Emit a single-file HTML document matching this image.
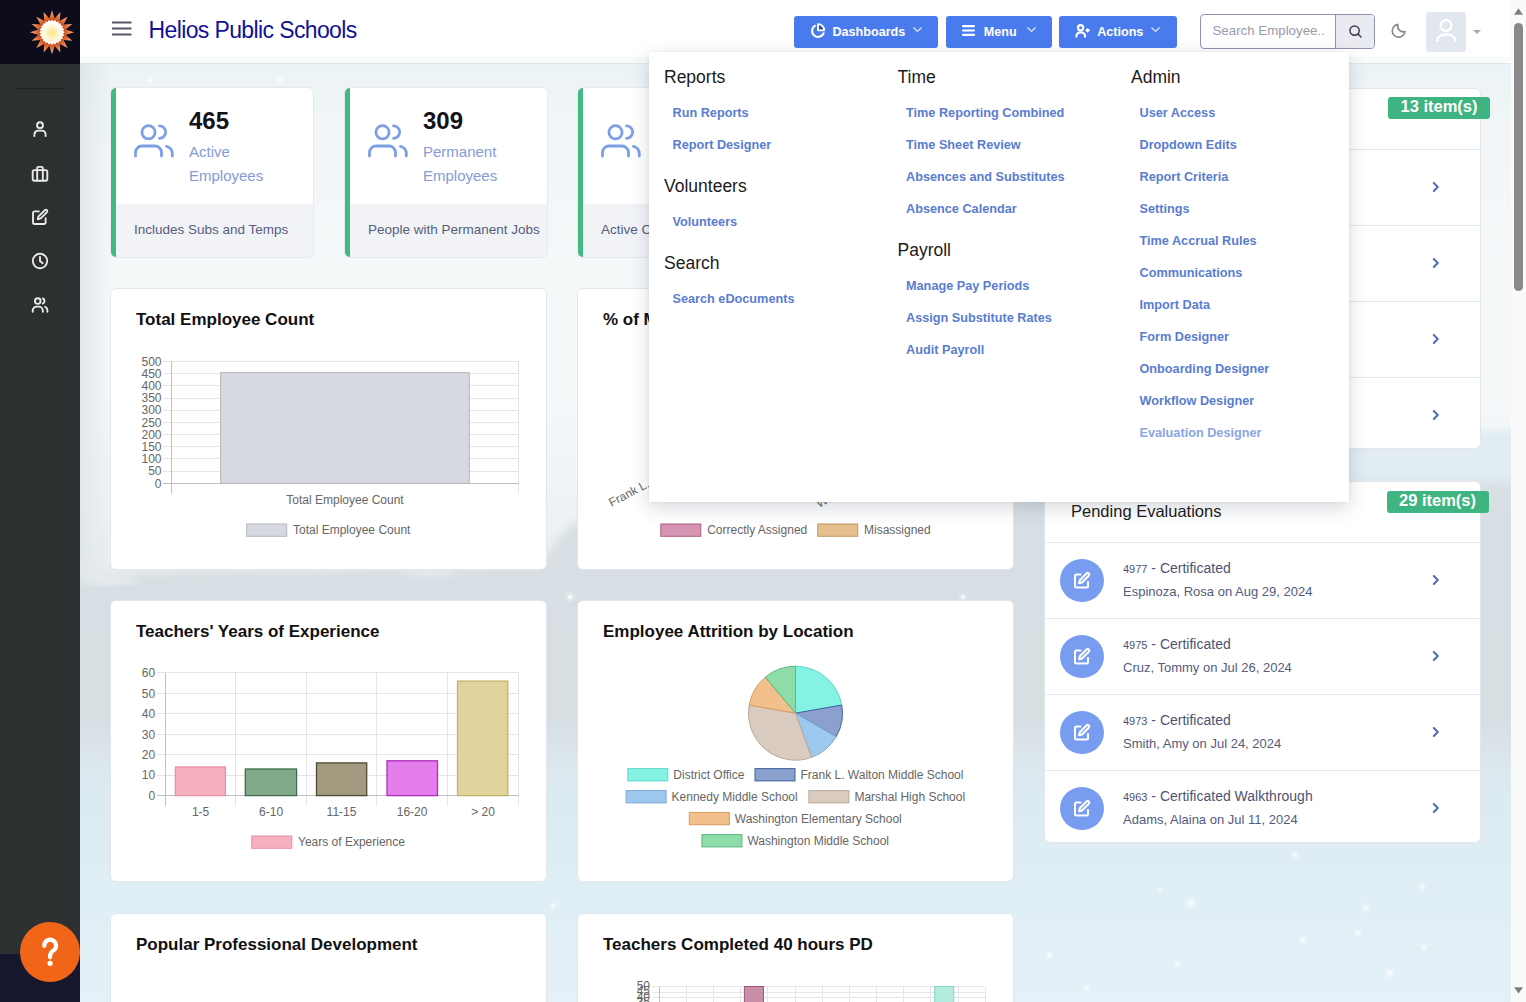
<!DOCTYPE html>
<html><head><meta charset="utf-8"><title>Helios Public Schools</title>
<style>
*{box-sizing:border-box;margin:0;padding:0}
html,body{width:1526px;height:1002px;overflow:hidden;font-family:"Liberation Sans",sans-serif;background:#eef3f6}
.abs{position:absolute}
#bg{position:absolute;left:80px;top:63px;width:1431px;height:939px;overflow:hidden;background:#eef3f6}
#side{position:absolute;left:0;top:0;width:80px;height:1002px;background:#2d3031}
#side .top{position:absolute;left:0;top:0;width:80px;height:64px;background:#0c0c1a}
#side .bot{position:absolute;left:0;top:954px;width:80px;height:48px;background:#16162c}
#side .div{position:absolute;left:16px;top:88px;width:48px;height:1px;background:#1f2020}
#side svg.ic{position:absolute;left:31px;width:18px;height:18px}
#hdr{position:absolute;left:80px;top:0;width:1431px;height:64px;background:linear-gradient(180deg,#fff 0,#fff 55px,#f8fbfb 58px,#f8fbfb 63px);border-bottom:1px solid #e2e8e9}
.card{position:absolute;background:#fff;border:1px solid #e2e6ea;border-radius:6px}
.stat{position:absolute;top:88px;width:202px;height:169px;background:#fff;border-radius:5px;border-left:5px solid #42b883;overflow:hidden;box-shadow:0 0 0 1px #e6eaee}
.stat .ft{position:absolute;left:0;right:0;bottom:0;height:53px;background:#f1f3f7}
.stat .num{position:absolute;left:73px;top:104px;font-weight:bold;font-size:24px;color:#111}
.ctitle{position:absolute;font-weight:bold;font-size:17px;color:#111;white-space:nowrap}
.btn{position:absolute;top:16px;height:31.5px;background:#4a7bee;border-radius:3px;color:#fff;font-weight:bold;font-size:12.6px}
.btn span{position:absolute;top:8.6px;white-space:nowrap}
#dd{position:absolute;left:649px;top:52px;width:700px;height:450px;background:#fff;border-radius:0;box-shadow:0 6px 18px rgba(40,50,70,.18),0 0 3px rgba(40,50,70,.08)}
#dd .h{position:absolute;font-size:17.5px;color:#1b1b1b;white-space:nowrap;margin-top:0.5px}
#dd .l{position:absolute;font-size:12.7px;font-weight:bold;color:#5a7dd0;white-space:nowrap;margin-top:1px}
.badge{position:absolute;height:22px;width:102px;background:#3eb480;border-radius:3px;color:#fff;font-weight:bold;font-size:16.5px;text-align:center;line-height:19.5px}
.row{position:absolute;left:0;right:0;height:76px;border-top:1px solid #e4e7eb}
.chev{position:absolute;left:387px;width:8px;height:10px}
#sb{position:absolute;left:1511px;top:0;width:15px;height:1002px;background:#fafafa}
</style></head><body>
<div id="bg"><svg width="1431" height="939" viewBox="80 63 1431 939" style="display:block">
<defs>
<linearGradient id="bgtop" x1="0" y1="63" x2="0" y2="620" gradientUnits="userSpaceOnUse"><stop offset="0" stop-color="#ecf3f6"/><stop offset="0.05" stop-color="#eef4f6"/><stop offset="0.15" stop-color="#f3f6f8"/><stop offset="0.35" stop-color="#f5f8f9"/><stop offset="0.6" stop-color="#f5f8f9"/><stop offset="0.8" stop-color="#eef2f4"/><stop offset="1" stop-color="#e4eaed"/></linearGradient>
<linearGradient id="lft" x1="80" y1="0" x2="112" y2="0" gradientUnits="userSpaceOnUse"><stop offset="0" stop-color="#dfe6ea" stop-opacity="0.9"/><stop offset="1" stop-color="#dfe6ea" stop-opacity="0"/></linearGradient>
<linearGradient id="mtn" x1="0" y1="470" x2="0" y2="1002" gradientUnits="userSpaceOnUse"><stop offset="0" stop-color="#d8e0e4"/><stop offset="0.47" stop-color="#d7dfe3"/><stop offset="0.52" stop-color="#d9e3e9"/><stop offset="0.56" stop-color="#dce8ef"/><stop offset="0.62" stop-color="#dceaf2"/><stop offset="0.8" stop-color="#e0eef5"/><stop offset="1" stop-color="#e4f1f8"/></linearGradient>
<filter id="bl" x="-5%" y="-5%" width="110%" height="110%"><feGaussianBlur stdDeviation="4"/></filter><filter id="bl2"><feGaussianBlur stdDeviation="1.5"/></filter>
</defs>
<rect x="80" y="63" width="1431" height="939" fill="url(#bgtop)"/>
<rect x="80" y="63" width="40" height="560" fill="url(#lft)"/>
<rect x="1290" y="430" width="240" height="70" fill="#e1ecf3" filter="url(#bl)"/><path d="M60 585 L110 574 L200 571 L330 570 L460 566 L540 562 L552 548 L566 530 L580 520 L700 515 L850 510 L1013 502 L1045 488 L1200 484 L1400 483 L1530 482 L1530 1010 L60 1010 Z" fill="url(#mtn)" filter="url(#bl)"/>
<g fill="#e9eef1" filter="url(#bl)" opacity="0.9"><ellipse cx="110" cy="580" rx="30" ry="5"/><ellipse cx="430" cy="572" rx="25" ry="4"/></g>
<g fill="#ffffff" opacity="0.85"><circle cx="1295" cy="855" r="1.6"/><circle cx="1191" cy="903" r="2.2"/><circle cx="1366" cy="908" r="1.8"/><circle cx="1303" cy="940" r="1.8"/><circle cx="1358" cy="933" r="1.6"/><circle cx="1049" cy="955" r="1.6"/><circle cx="1178" cy="964" r="1.6"/><circle cx="1390" cy="973" r="1.8"/><circle cx="1087" cy="988" r="1.6"/><circle cx="1424" cy="947" r="1.3"/><circle cx="570" cy="597" r="1.8"/><circle cx="963" cy="597" r="1.6"/><circle cx="1422" cy="887" r="1.6"/><circle cx="553" cy="906" r="1.5"/><circle cx="1160" cy="890" r="1.2"/><circle cx="150" cy="80" r="1.2"/><circle cx="280" cy="80" r="1.3"/></g><g fill="#ffffff" opacity="0.35" filter="url(#bl2)"><circle cx="1295" cy="855" r="4.0"/><circle cx="1191" cy="903" r="5.5"/><circle cx="1366" cy="908" r="4.5"/><circle cx="1303" cy="940" r="4.5"/><circle cx="1358" cy="933" r="4.0"/><circle cx="1049" cy="955" r="4.0"/><circle cx="1178" cy="964" r="4.0"/><circle cx="1390" cy="973" r="4.5"/><circle cx="1087" cy="988" r="4.0"/><circle cx="1424" cy="947" r="3.25"/><circle cx="570" cy="597" r="4.5"/><circle cx="963" cy="597" r="4.0"/><circle cx="1422" cy="887" r="4.0"/><circle cx="553" cy="906" r="3.75"/><circle cx="1160" cy="890" r="3.0"/><circle cx="150" cy="80" r="3.0"/><circle cx="280" cy="80" r="3.25"/></g></svg></div>
<div id="side"><div class="top"></div><div class="bot"></div><div class="div"></div>
<svg class="abs" style="left:0;top:0" width="80" height="64" viewBox="0 0 80 64"><defs><radialGradient id="sg" cx="52" cy="32.3" r="22" gradientUnits="userSpaceOnUse"><stop offset="0.5" stop-color="#b9441a"/><stop offset="0.72" stop-color="#e5733c"/><stop offset="1" stop-color="#f6b08a"/></radialGradient><radialGradient id="cg" cx="52" cy="33.3" r="12" gradientUnits="userSpaceOnUse"><stop offset="0" stop-color="#fde57e"/><stop offset="0.55" stop-color="#fff4d2"/><stop offset="1" stop-color="#ffffff"/></radialGradient></defs><polygon points="52.0,10.3 54.7,18.6 60.4,12.0 59.8,20.7 67.6,16.7 63.6,24.5 72.3,23.9 65.7,29.6 74.0,32.3 65.7,35.0 72.3,40.7 63.6,40.1 67.6,47.9 59.8,43.9 60.4,52.6 54.7,46.0 52.0,54.3 49.3,46.0 43.6,52.6 44.2,43.9 36.4,47.9 40.4,40.1 31.7,40.7 38.3,35.0 30.0,32.3 38.3,29.6 31.7,23.9 40.4,24.5 36.4,16.7 44.2,20.7 43.6,12.0 49.3,18.6" fill="url(#sg)"/><polygon points="52.0,19.7 53.5,21.2 55.3,20.1 56.3,22.0 58.3,21.4 58.8,23.4 60.9,23.4 60.9,25.5 62.9,26.0 62.3,28.0 64.2,29.0 63.1,30.8 64.6,32.3 63.1,33.8 64.2,35.6 62.3,36.6 62.9,38.6 60.9,39.1 60.9,41.2 58.8,41.2 58.3,43.2 56.3,42.6 55.3,44.5 53.5,43.4 52.0,44.9 50.5,43.4 48.7,44.5 47.7,42.6 45.7,43.2 45.2,41.2 43.1,41.2 43.1,39.1 41.1,38.6 41.7,36.6 39.8,35.6 40.9,33.8 39.4,32.3 40.9,30.8 39.8,29.0 41.7,28.0 41.1,26.0 43.1,25.5 43.1,23.4 45.2,23.4 45.7,21.4 47.7,22.0 48.7,20.1 50.5,21.2" fill="url(#cg)"/></svg>
<svg class="ic" style="top:119.5px" viewBox="0 0 16 16" fill="none" stroke="#ececec" stroke-width="1.65" stroke-linecap="round"><circle cx="8" cy="4.6" r="2.6"/><path d="M3 14.2v-1.2a3.6 3.6 0 0 1 3.6-3.6h2.8a3.6 3.6 0 0 1 3.6 3.6v1.2"/></svg>
<svg class="ic" style="top:164.5px" viewBox="0 0 16 16" fill="none" stroke="#ececec" stroke-width="1.65" stroke-linejoin="round"><rect x="1.5" y="4.5" width="13" height="9.5" rx="1.5"/><path d="M5.5 4.5v-1.8a1 1 0 0 1 1-1h3a1 1 0 0 1 1 1v1.8M5.5 4.5v9.5M10.5 4.5v9.5"/></svg>
<svg class="ic" style="top:208.3px" viewBox="0 0 16 16" fill="none" stroke="#ececec" stroke-width="1.65" stroke-linecap="round" stroke-linejoin="round"><path d="M7 3H3.2a1.4 1.4 0 0 0-1.4 1.4v8.4a1.4 1.4 0 0 0 1.4 1.4h8.4a1.4 1.4 0 0 0 1.4-1.4V9"/><path d="M12.5 1.8a1.3 1.3 0 0 1 1.8 1.8L8.6 9.3 6 10l.7-2.6z"/></svg>
<svg class="ic" style="top:252.2px" viewBox="0 0 16 16" fill="none" stroke="#ececec" stroke-width="1.65" stroke-linecap="round"><circle cx="8" cy="8" r="6.4"/><path d="M8 4.3V8l2.4 2"/></svg>
<svg class="ic" style="top:295.8px" viewBox="0 0 16 16" fill="none" stroke="#ececec" stroke-width="1.65" stroke-linecap="round"><circle cx="6" cy="4.5" r="2.5"/><path d="M1.5 14v-1a3.5 3.5 0 0 1 3.5-3.5h2a3.5 3.5 0 0 1 3.5 3.5v1"/><path d="M10.5 2.2a2.5 2.5 0 0 1 0 4.6M12.6 9.6a3.5 3.5 0 0 1 2 3.2v1.2"/></svg>
<div class="abs" style="left:19.5px;top:921.7px;width:60px;height:60px;border-radius:50%;background:#f16519"><svg class="abs" style="left:0;top:0" width="60" height="60" viewBox="0 0 60 60"><path d="M24.3 23.8a5.9 5.9 0 1 1 9.3 4.6c-2.2 1.5-3.5 2.6-3.5 5.6v1.3" fill="none" stroke="#fff" stroke-width="4.2" stroke-linecap="round"/><circle cx="30.1" cy="41.3" r="2.6" fill="#fff"/></svg></div>
</div>
<div id="hdr">
<svg class="abs" style="left:32px;top:21px" width="20" height="16" viewBox="0 0 20 16"><path d="M0 1.5h19.5M0 7.5h19.5M0 13.5h19.5" stroke="#575769" stroke-width="2"/></svg>
<div class="abs" style="left:68.5px;top:16.8px;font-size:23px;color:#121296;white-space:nowrap;letter-spacing:-0.62px">Helios Public Schools</div>
</div>
<div class="btn" style="left:794px;width:143.5px"><svg class="abs" style="left:15.5px;top:6.5px" width="17" height="17" viewBox="0 0 17 17" fill="none" stroke="#fff" stroke-width="2"><path d="M5.6 2.4A6 6 0 1 0 13.9 9.4"/><path d="M8 1.1V7.3H14.2A6.2 6.2 0 0 0 8 1.1Z" stroke-width="1.8" stroke-linejoin="round" fill="#34509f"/></svg><span style="left:38.5px">Dashboards</span><svg class="abs" style="left:119px;top:11px" width="9" height="6" viewBox="0 0 9 6" fill="none" stroke="#dfe7ff" stroke-width="1.2"><path d="M.5 .5l4 4 4-4"/></svg></div>
<div class="btn" style="left:946.3px;width:105.4px"><svg class="abs" style="left:16px;top:9px" width="13" height="11" viewBox="0 0 13 11" fill="#fff"><rect x="0" y="0" width="13" height="2.2" rx="1"/><rect x="0" y="4.4" width="13" height="2.2" rx="1"/><rect x="0" y="8.8" width="13" height="2.2" rx="1"/></svg><span style="left:37.5px">Menu</span><svg class="abs" style="left:81px;top:11px" width="9" height="6" viewBox="0 0 9 6" fill="none" stroke="#dfe7ff" stroke-width="1.2"><path d="M.5 .5l4 4 4-4"/></svg></div>
<div class="btn" style="left:1059.2px;width:117.5px"><svg class="abs" style="left:15.5px;top:7.5px" width="17" height="15" viewBox="0 0 17 15" fill="none" stroke="#fff" stroke-width="2.2" stroke-linecap="round"><circle cx="5.6" cy="3.7" r="2.6"/><path d="M1.4 12.6V11.6A4.3 3.3 0 0 1 10 11.6V12.6"/><path d="M12.6 3.9L15 6.3L12.6 8.7L10.2 6.3Z" fill="#fff" stroke="none"/></svg><span style="left:38px">Actions</span><svg class="abs" style="left:92px;top:11px" width="9" height="6" viewBox="0 0 9 6" fill="none" stroke="#dfe7ff" stroke-width="1.2"><path d="M.5 .5l4 4 4-4"/></svg></div>
<div class="abs" style="left:1200px;top:14px;width:175px;height:34.5px;border:1px solid #8d93b5;border-radius:4px;background:#fff;overflow:hidden">
 <div class="abs" style="left:11.5px;top:8px;font-size:13.3px;color:#9a9bab;white-space:nowrap">Search Employee..</div>
 <div class="abs" style="left:134px;top:0;width:40px;height:33px;background:#e9ebf0;border-left:1px solid #8d93b5"></div>
 <svg class="abs" style="left:148px;top:10px" width="13" height="13" viewBox="0 0 13 13" fill="none" stroke="#3d3d4d" stroke-width="1.5" stroke-linecap="round"><circle cx="5.6" cy="5.6" r="4.6"/><path d="M9 9l3 3"/></svg>
</div>
<svg class="abs" style="left:1390px;top:23px" width="17" height="16" viewBox="0 0 17 16" fill="none" stroke="#88898d" stroke-width="1.6" stroke-linejoin="round"><path d="M8 1.4A6.4 6.4 0 1 0 15 8.6A5.6 5.6 0 0 1 8 1.4Z"/></svg>
<div class="abs" style="left:1426px;top:12px;width:40px;height:39.5px;background:#e2e6ee;border-radius:3px"></div>
<svg class="abs" style="left:1434px;top:17px" width="24" height="28" viewBox="0 0 24 28" fill="none" stroke="#fff" stroke-width="2.3" stroke-linecap="round"><circle cx="12" cy="8.6" r="5.4"/><path d="M3.2 23.5a9 6.2 0 0 1 18 0"/></svg>
<svg class="abs" style="left:1472.5px;top:29.5px" width="8" height="4" viewBox="0 0 8 4"><path d="M0 0h8L4 4z" fill="#a9a9ad"/></svg>
<div class="stat" style="left:111px"><div class="ft"></div></div>
<svg class="abs" style="left:133.5px;top:123.5px" width="41" height="34" viewBox="0 0 41 34" fill="none" stroke="#7c9fe5" stroke-width="2.8" stroke-linecap="round"><circle cx="14.5" cy="8.3" r="6.6"/><path d="M25.5 1.9a6.2 6.2 0 0 1 0 12.4"/><path d="M1.5 32v-3.5a6.5 6.5 0 0 1 6.5-6.5h13a6.5 6.5 0 0 1 6.5 6.5V32"/><path d="M32.5 22.3a7.5 7.5 0 0 1 5.8 7.3V32"/></svg>
<div class="abs" style="left:189px;top:107px;font-weight:bold;font-size:24px;color:#121218">465</div>
<div class="abs" style="left:189px;top:140.2px;font-size:15px;line-height:24px;color:#859bd6;white-space:nowrap">Active<br>Employees</div>
<div class="abs" style="left:134px;top:222px;font-size:13.5px;color:#575d7d;white-space:nowrap">Includes Subs and Temps</div>
<div class="stat" style="left:345px"><div class="ft"></div></div>
<svg class="abs" style="left:367.5px;top:123.5px" width="41" height="34" viewBox="0 0 41 34" fill="none" stroke="#7c9fe5" stroke-width="2.8" stroke-linecap="round"><circle cx="14.5" cy="8.3" r="6.6"/><path d="M25.5 1.9a6.2 6.2 0 0 1 0 12.4"/><path d="M1.5 32v-3.5a6.5 6.5 0 0 1 6.5-6.5h13a6.5 6.5 0 0 1 6.5 6.5V32"/><path d="M32.5 22.3a7.5 7.5 0 0 1 5.8 7.3V32"/></svg>
<div class="abs" style="left:423px;top:107px;font-weight:bold;font-size:24px;color:#121218">309</div>
<div class="abs" style="left:423px;top:140.2px;font-size:15px;line-height:24px;color:#859bd6;white-space:nowrap">Permanent<br>Employees</div>
<div class="abs" style="left:368px;top:222px;font-size:13.5px;color:#575d7d;white-space:nowrap">People with Permanent Jobs</div>
<div class="stat" style="left:578px"><div class="ft"></div></div>
<svg class="abs" style="left:600.5px;top:123.5px" width="41" height="34" viewBox="0 0 41 34" fill="none" stroke="#7c9fe5" stroke-width="2.8" stroke-linecap="round"><circle cx="14.5" cy="8.3" r="6.6"/><path d="M25.5 1.9a6.2 6.2 0 0 1 0 12.4"/><path d="M1.5 32v-3.5a6.5 6.5 0 0 1 6.5-6.5h13a6.5 6.5 0 0 1 6.5 6.5V32"/><path d="M32.5 22.3a7.5 7.5 0 0 1 5.8 7.3V32"/></svg>
<div class="abs" style="left:656px;top:107px;font-weight:bold;font-size:24px;color:#121218">52</div>
<div class="abs" style="left:656px;top:140.2px;font-size:15px;line-height:24px;color:#859bd6;white-space:nowrap">Active<br>Contracts</div>
<div class="abs" style="left:601px;top:222px;font-size:13.5px;color:#575d7d;white-space:nowrap">Active Contracts</div>
<div class="stat" style="left:812px"><div class="ft"></div></div>
<svg class="abs" style="left:834.5px;top:123.5px" width="41" height="34" viewBox="0 0 41 34" fill="none" stroke="#7c9fe5" stroke-width="2.8" stroke-linecap="round"><circle cx="14.5" cy="8.3" r="6.6"/><path d="M25.5 1.9a6.2 6.2 0 0 1 0 12.4"/><path d="M1.5 32v-3.5a6.5 6.5 0 0 1 6.5-6.5h13a6.5 6.5 0 0 1 6.5 6.5V32"/><path d="M32.5 22.3a7.5 7.5 0 0 1 5.8 7.3V32"/></svg>
<div class="abs" style="left:890px;top:107px;font-weight:bold;font-size:24px;color:#121218">12</div>
<div class="abs" style="left:890px;top:140.2px;font-size:15px;line-height:24px;color:#859bd6;white-space:nowrap">Open<br>Positions</div>
<div class="abs" style="left:835px;top:222px;font-size:13.5px;color:#575d7d;white-space:nowrap">Open positions</div>

<div class="card" style="left:110px;top:288px;width:437px;height:282px"></div>
<div class="ctitle" style="left:136px;top:310.2px">Total Employee Count</div>
<div class="card" style="left:577px;top:288px;width:437px;height:282px"></div>
<div class="ctitle" style="left:603px;top:310.2px">% of Misassigned Positions</div>
<div class="card" style="left:110px;top:600px;width:437px;height:282px"></div>
<div class="ctitle" style="left:136px;top:622.2px">Teachers' Years of Experience</div>
<div class="card" style="left:577px;top:600px;width:437px;height:282px"></div>
<div class="ctitle" style="left:603px;top:622.2px">Employee Attrition by Location</div>
<div class="card" style="left:110px;top:913px;width:437px;height:282px"></div>
<div class="ctitle" style="left:136px;top:935.2px">Popular Professional Development</div>
<div class="card" style="left:577px;top:913px;width:437px;height:282px"></div>
<div class="ctitle" style="left:603px;top:935.2px">Teachers Completed 40 hours PD</div>
<div class="card" style="left:1044px;top:88px;width:437px;height:361px;overflow:visible"></div>
<div class="badge" style="left:1388px;top:97px">13 item(s)</div>
<div class="abs" style="left:1045.8px;top:148.7px;width:434px;height:1px;background:#e5e8ec"></div>
<svg class="abs" style="left:1431.5px;top:182.2px" width="8" height="10" viewBox="0 0 8 10" fill="none" stroke="#4d69b8" stroke-width="1.9" stroke-linecap="round" stroke-linejoin="round"><path d="M1.8 1l4 4-4 4"/></svg>
<div class="abs" style="left:1045.8px;top:224.7px;width:434px;height:1px;background:#e5e8ec"></div>
<svg class="abs" style="left:1431.5px;top:258.2px" width="8" height="10" viewBox="0 0 8 10" fill="none" stroke="#4d69b8" stroke-width="1.9" stroke-linecap="round" stroke-linejoin="round"><path d="M1.8 1l4 4-4 4"/></svg>
<div class="abs" style="left:1045.8px;top:300.7px;width:434px;height:1px;background:#e5e8ec"></div>
<svg class="abs" style="left:1431.5px;top:334.2px" width="8" height="10" viewBox="0 0 8 10" fill="none" stroke="#4d69b8" stroke-width="1.9" stroke-linecap="round" stroke-linejoin="round"><path d="M1.8 1l4 4-4 4"/></svg>
<div class="abs" style="left:1045.8px;top:376.5px;width:434px;height:1px;background:#e5e8ec"></div>
<svg class="abs" style="left:1431.5px;top:410.0px" width="8" height="10" viewBox="0 0 8 10" fill="none" stroke="#4d69b8" stroke-width="1.9" stroke-linecap="round" stroke-linejoin="round"><path d="M1.8 1l4 4-4 4"/></svg>
<div class="card" style="left:1044px;top:481px;width:437px;height:362px"></div>
<div class="abs" style="left:1071px;top:501.5px;font-size:16.5px;color:#1a1a1a;white-space:nowrap">Pending Evaluations</div>
<div class="badge" style="left:1386.5px;top:491px;height:22px">29 item(s)</div>
<div class="abs" style="left:1045.8px;top:542.4px;width:434px;height:1px;background:#e5e8ec"></div>
<div class="abs" style="left:1060px;top:558.9px;width:43.5px;height:43.5px;border-radius:50%;background:#789df0"><svg class="abs" style="left:11px;top:11px" width="22" height="22" viewBox="0 0 22 22" fill="none" stroke="#fff" stroke-width="2" stroke-linecap="round" stroke-linejoin="round"><path d="M9.5 4.5H5.5a1.5 1.5 0 0 0-1.5 1.5v10a1.5 1.5 0 0 0 1.5 1.5h10a1.5 1.5 0 0 0 1.5-1.5V12"/><path d="M15.5 3.5a1.6 1.6 0 0 1 2.3 2.3L11 12.5 8 13.2l.8-3z"/></svg></div>
<div class="abs" style="left:1123px;top:560.4px;font-size:14px;color:#4e5373;white-space:nowrap"><span style="font-size:11px">4977</span> - Certificated</div>
<div class="abs" style="left:1123px;top:583.9px;font-size:13px;color:#555b7b;white-space:nowrap">Espinoza, Rosa on Aug 29, 2024</div>
<svg class="abs" style="left:1431.5px;top:575.4px" width="8" height="10" viewBox="0 0 8 10" fill="none" stroke="#4d69b8" stroke-width="1.9" stroke-linecap="round" stroke-linejoin="round"><path d="M1.8 1l4 4-4 4"/></svg>
<div class="abs" style="left:1045.8px;top:618.4px;width:434px;height:1px;background:#e5e8ec"></div>
<div class="abs" style="left:1060px;top:634.9px;width:43.5px;height:43.5px;border-radius:50%;background:#789df0"><svg class="abs" style="left:11px;top:11px" width="22" height="22" viewBox="0 0 22 22" fill="none" stroke="#fff" stroke-width="2" stroke-linecap="round" stroke-linejoin="round"><path d="M9.5 4.5H5.5a1.5 1.5 0 0 0-1.5 1.5v10a1.5 1.5 0 0 0 1.5 1.5h10a1.5 1.5 0 0 0 1.5-1.5V12"/><path d="M15.5 3.5a1.6 1.6 0 0 1 2.3 2.3L11 12.5 8 13.2l.8-3z"/></svg></div>
<div class="abs" style="left:1123px;top:636.4px;font-size:14px;color:#4e5373;white-space:nowrap"><span style="font-size:11px">4975</span> - Certificated</div>
<div class="abs" style="left:1123px;top:659.9px;font-size:13px;color:#555b7b;white-space:nowrap">Cruz, Tommy on Jul 26, 2024</div>
<svg class="abs" style="left:1431.5px;top:651.4px" width="8" height="10" viewBox="0 0 8 10" fill="none" stroke="#4d69b8" stroke-width="1.9" stroke-linecap="round" stroke-linejoin="round"><path d="M1.8 1l4 4-4 4"/></svg>
<div class="abs" style="left:1045.8px;top:694.4px;width:434px;height:1px;background:#e5e8ec"></div>
<div class="abs" style="left:1060px;top:710.9px;width:43.5px;height:43.5px;border-radius:50%;background:#789df0"><svg class="abs" style="left:11px;top:11px" width="22" height="22" viewBox="0 0 22 22" fill="none" stroke="#fff" stroke-width="2" stroke-linecap="round" stroke-linejoin="round"><path d="M9.5 4.5H5.5a1.5 1.5 0 0 0-1.5 1.5v10a1.5 1.5 0 0 0 1.5 1.5h10a1.5 1.5 0 0 0 1.5-1.5V12"/><path d="M15.5 3.5a1.6 1.6 0 0 1 2.3 2.3L11 12.5 8 13.2l.8-3z"/></svg></div>
<div class="abs" style="left:1123px;top:712.4px;font-size:14px;color:#4e5373;white-space:nowrap"><span style="font-size:11px">4973</span> - Certificated</div>
<div class="abs" style="left:1123px;top:735.9px;font-size:13px;color:#555b7b;white-space:nowrap">Smith, Amy on Jul 24, 2024</div>
<svg class="abs" style="left:1431.5px;top:727.4px" width="8" height="10" viewBox="0 0 8 10" fill="none" stroke="#4d69b8" stroke-width="1.9" stroke-linecap="round" stroke-linejoin="round"><path d="M1.8 1l4 4-4 4"/></svg>
<div class="abs" style="left:1045.8px;top:770.4px;width:434px;height:1px;background:#e5e8ec"></div>
<div class="abs" style="left:1060px;top:786.9px;width:43.5px;height:43.5px;border-radius:50%;background:#789df0"><svg class="abs" style="left:11px;top:11px" width="22" height="22" viewBox="0 0 22 22" fill="none" stroke="#fff" stroke-width="2" stroke-linecap="round" stroke-linejoin="round"><path d="M9.5 4.5H5.5a1.5 1.5 0 0 0-1.5 1.5v10a1.5 1.5 0 0 0 1.5 1.5h10a1.5 1.5 0 0 0 1.5-1.5V12"/><path d="M15.5 3.5a1.6 1.6 0 0 1 2.3 2.3L11 12.5 8 13.2l.8-3z"/></svg></div>
<div class="abs" style="left:1123px;top:788.4px;font-size:14px;color:#4e5373;white-space:nowrap"><span style="font-size:11px">4963</span> - Certificated Walkthrough</div>
<div class="abs" style="left:1123px;top:811.9px;font-size:13px;color:#555b7b;white-space:nowrap">Adams, Alaina on Jul 11, 2024</div>
<svg class="abs" style="left:1431.5px;top:803.4px" width="8" height="10" viewBox="0 0 8 10" fill="none" stroke="#4d69b8" stroke-width="1.9" stroke-linecap="round" stroke-linejoin="round"><path d="M1.8 1l4 4-4 4"/></svg>
<svg class="abs" style="left:0;top:0" width="1526" height="1002" viewBox="0 0 1526 1002">
<g stroke="#e5e5e5" stroke-width="1" shape-rendering="crispEdges"><line x1="163" x2="518.5" y1="483.3" y2="483.3"/><line x1="163" x2="518.5" y1="471.1" y2="471.1"/><line x1="163" x2="518.5" y1="458.9" y2="458.9"/><line x1="163" x2="518.5" y1="446.7" y2="446.7"/><line x1="163" x2="518.5" y1="434.5" y2="434.5"/><line x1="163" x2="518.5" y1="422.3" y2="422.3"/><line x1="163" x2="518.5" y1="410.2" y2="410.2"/><line x1="163" x2="518.5" y1="398.0" y2="398.0"/><line x1="163" x2="518.5" y1="385.8" y2="385.8"/><line x1="163" x2="518.5" y1="373.6" y2="373.6"/><line x1="163" x2="518.5" y1="361.4" y2="361.4"/><line x1="518.5" x2="518.5" y1="361.4" y2="494"/></g><line x1="171.4" x2="171.4" y1="361.4" y2="494" stroke="#bfbfbf" shape-rendering="crispEdges"/><line x1="163" x2="518.5" y1="483.3" y2="483.3" stroke="#bfbfbf" shape-rendering="crispEdges"/><rect x="220.6" y="372.6" width="248.7" height="110.7" fill="#d6d9df" stroke="#b3b7bd" stroke-width="1"/><text x="161.5" y="487.5" text-anchor="end" font-family="Liberation Sans" font-size="12" fill="#666">0</text><text x="161.5" y="475.3" text-anchor="end" font-family="Liberation Sans" font-size="12" fill="#666">50</text><text x="161.5" y="463.1" text-anchor="end" font-family="Liberation Sans" font-size="12" fill="#666">100</text><text x="161.5" y="450.9" text-anchor="end" font-family="Liberation Sans" font-size="12" fill="#666">150</text><text x="161.5" y="438.7" text-anchor="end" font-family="Liberation Sans" font-size="12" fill="#666">200</text><text x="161.5" y="426.5" text-anchor="end" font-family="Liberation Sans" font-size="12" fill="#666">250</text><text x="161.5" y="414.4" text-anchor="end" font-family="Liberation Sans" font-size="12" fill="#666">300</text><text x="161.5" y="402.2" text-anchor="end" font-family="Liberation Sans" font-size="12" fill="#666">350</text><text x="161.5" y="390.0" text-anchor="end" font-family="Liberation Sans" font-size="12" fill="#666">400</text><text x="161.5" y="377.8" text-anchor="end" font-family="Liberation Sans" font-size="12" fill="#666">450</text><text x="161.5" y="365.6" text-anchor="end" font-family="Liberation Sans" font-size="12" fill="#666">500</text><text x="345" y="503.7" text-anchor="middle" font-family="Liberation Sans" font-size="12" fill="#666">Total Employee Count</text><rect x="246.7" y="524" width="40" height="12.3" fill="#d6d9df" stroke="#b3b7bd"/><text x="293" y="534.2" font-family="Liberation Sans" font-size="12" fill="#666">Total Employee Count</text>
<text transform="translate(611.5,507) rotate(-28)" font-family="Liberation Sans" font-size="12" fill="#666">Frank L. Walton Middle School</text><text transform="translate(819,508) rotate(-28)" font-family="Liberation Sans" font-size="12" fill="#666">Washington Elementary</text><rect x="660.8" y="524" width="40" height="12.3" fill="#d595b2" stroke="#b0617f"/><text x="707.2" y="534.2" font-family="Liberation Sans" font-size="12" fill="#666">Correctly Assigned</text><rect x="817.7" y="524" width="40" height="12.3" fill="#e6bf8f" stroke="#c39a64"/><text x="864" y="534.2" font-family="Liberation Sans" font-size="12" fill="#666">Misassigned</text>
<g stroke="#e5e5e5" stroke-width="1" shape-rendering="crispEdges"><line x1="157" x2="518.5" y1="795.6" y2="795.6"/><line x1="157" x2="518.5" y1="775.1" y2="775.1"/><line x1="157" x2="518.5" y1="754.7" y2="754.7"/><line x1="157" x2="518.5" y1="734.2" y2="734.2"/><line x1="157" x2="518.5" y1="713.8" y2="713.8"/><line x1="157" x2="518.5" y1="693.4" y2="693.4"/><line x1="157" x2="518.5" y1="672.9" y2="672.9"/><line x1="235.7" x2="235.7" y1="672.9" y2="806"/><line x1="306.5" x2="306.5" y1="672.9" y2="806"/><line x1="376.5" x2="376.5" y1="672.9" y2="806"/><line x1="447.6" x2="447.6" y1="672.9" y2="806"/><line x1="518.5" x2="518.5" y1="672.9" y2="806"/></g><line x1="165.4" x2="165.4" y1="672.9" y2="806" stroke="#bfbfbf" shape-rendering="crispEdges"/><line x1="157" x2="518.5" y1="795.6" y2="795.6" stroke="#bfbfbf" shape-rendering="crispEdges"/><rect x="175.4" y="767.0" width="50.0" height="28.6" fill="#f5b1bf" stroke="#e88fa3" stroke-width="1.3"/><rect x="245.3" y="769.0" width="51.3" height="26.6" fill="#80a98a" stroke="#3f6d4c" stroke-width="1.3"/><rect x="316.5" y="762.9" width="50.2" height="32.7" fill="#a39b80" stroke="#4f4a36" stroke-width="1.3"/><rect x="387" y="760.8" width="50.5" height="34.8" fill="#e47eec" stroke="#b12bbb" stroke-width="1.3"/><rect x="457.5" y="681.1" width="50.3" height="114.5" fill="#e0d49c" stroke="#c2b26c" stroke-width="1.3"/><text x="155.2" y="799.8" text-anchor="end" font-family="Liberation Sans" font-size="12" fill="#666">0</text><text x="155.2" y="779.4" text-anchor="end" font-family="Liberation Sans" font-size="12" fill="#666">10</text><text x="155.2" y="758.9" text-anchor="end" font-family="Liberation Sans" font-size="12" fill="#666">20</text><text x="155.2" y="738.5" text-anchor="end" font-family="Liberation Sans" font-size="12" fill="#666">30</text><text x="155.2" y="718.0" text-anchor="end" font-family="Liberation Sans" font-size="12" fill="#666">40</text><text x="155.2" y="697.6" text-anchor="end" font-family="Liberation Sans" font-size="12" fill="#666">50</text><text x="155.2" y="677.1" text-anchor="end" font-family="Liberation Sans" font-size="12" fill="#666">60</text><text x="200.6" y="815.8" text-anchor="middle" font-family="Liberation Sans" font-size="12" fill="#666">1-5</text><text x="271.1" y="815.8" text-anchor="middle" font-family="Liberation Sans" font-size="12" fill="#666">6-10</text><text x="341.5" y="815.8" text-anchor="middle" font-family="Liberation Sans" font-size="12" fill="#666">11-15</text><text x="412.1" y="815.8" text-anchor="middle" font-family="Liberation Sans" font-size="12" fill="#666">16-20</text><text x="483.1" y="815.8" text-anchor="middle" font-family="Liberation Sans" font-size="12" fill="#666">&gt; 20</text><rect x="251.8" y="836" width="40" height="12.3" fill="#f5b1bf" stroke="#e88fa3"/><text x="298" y="845.7" font-family="Liberation Sans" font-size="12" fill="#666">Years of Experience</text>
<path d="M795.5,713.2L795.50,666.20A47,47 0 0 1 841.79,705.04Z" fill="#84f3e3" stroke="#5cd9c8" stroke-width="1"/><path d="M795.5,713.2L841.79,705.04A47,47 0 0 1 836.20,736.70Z" fill="#8ba0cc" stroke="#41609e" stroke-width="1"/><path d="M795.5,713.2L836.20,736.70A47,47 0 0 1 811.57,757.37Z" fill="#9ec8ee" stroke="#7aa8d6" stroke-width="1"/><path d="M795.5,713.2L811.57,757.37A47,47 0 0 1 749.21,705.04Z" fill="#d9cbc0" stroke="#b8a89a" stroke-width="1"/><path d="M795.5,713.2L749.21,705.04A47,47 0 0 1 765.29,677.20Z" fill="#f1c08c" stroke="#d99c5c" stroke-width="1"/><path d="M795.5,713.2L765.29,677.20A47,47 0 0 1 795.50,666.20Z" fill="#8edca8" stroke="#5cb87c" stroke-width="1"/><rect x="627.8" y="768.6" width="40" height="12.3" fill="#84f3e3" stroke="#5cd9c8"/><text x="673.3" y="779.0" font-family="Liberation Sans" font-size="12" fill="#666">District Office</text><rect x="755.0" y="768.6" width="40" height="12.3" fill="#8ba0cc" stroke="#41609e"/><text x="800.5" y="779.0" font-family="Liberation Sans" font-size="12" fill="#666">Frank L. Walton Middle School</text><rect x="626.1" y="790.6" width="40" height="12.3" fill="#9ec8ee" stroke="#7aa8d6"/><text x="671.6" y="801.0" font-family="Liberation Sans" font-size="12" fill="#666">Kennedy Middle School</text><rect x="808.9" y="790.6" width="40" height="12.3" fill="#d9cbc0" stroke="#b8a89a"/><text x="854.4" y="801.0" font-family="Liberation Sans" font-size="12" fill="#666">Marshal High School</text><rect x="689.3" y="812.4" width="40" height="12.3" fill="#f1c08c" stroke="#d99c5c"/><text x="734.8" y="822.8" font-family="Liberation Sans" font-size="12" fill="#666">Washington Elementary School</text><rect x="701.9" y="834.6" width="40" height="12.3" fill="#8edca8" stroke="#5cb87c"/><text x="747.4" y="845.0" font-family="Liberation Sans" font-size="12" fill="#666">Washington Middle School</text>
<g stroke="#e5e5e5" stroke-width="1" shape-rendering="crispEdges"><line x1="659.3" x2="659.3" y1="986.5" y2="1002"/><line x1="686.4" x2="686.4" y1="986.5" y2="1002"/><line x1="713.6" x2="713.6" y1="986.5" y2="1002"/><line x1="740.8" x2="740.8" y1="986.5" y2="1002"/><line x1="767.9" x2="767.9" y1="986.5" y2="1002"/><line x1="795.0" x2="795.0" y1="986.5" y2="1002"/><line x1="822.2" x2="822.2" y1="986.5" y2="1002"/><line x1="849.4" x2="849.4" y1="986.5" y2="1002"/><line x1="876.5" x2="876.5" y1="986.5" y2="1002"/><line x1="903.6" x2="903.6" y1="986.5" y2="1002"/><line x1="930.8" x2="930.8" y1="986.5" y2="1002"/><line x1="958.0" x2="958.0" y1="986.5" y2="1002"/><line x1="985.1" x2="985.1" y1="986.5" y2="1002"/><line x1="652" x2="985.1" y1="986.5" y2="986.5"/><line x1="652" x2="985.1" y1="992.0" y2="992.0"/><line x1="652" x2="985.1" y1="997.5" y2="997.5"/><line x1="652" x2="985.1" y1="1003.0" y2="1003.0"/></g><line x1="659.3" x2="659.3" y1="986.5" y2="1002" stroke="#bfbfbf" shape-rendering="crispEdges"/><rect x="744.4" y="986.5" width="19" height="20" fill="#c890a8" stroke="#9d5677"/><rect x="934.7" y="986.5" width="19" height="20" fill="#b5ece0" stroke="#7fd6c4"/><text x="650" y="989.7" text-anchor="end" font-family="Liberation Sans" font-size="12" fill="#666">50</text><text x="650" y="995.2" text-anchor="end" font-family="Liberation Sans" font-size="12" fill="#666">45</text><text x="650" y="1000.7" text-anchor="end" font-family="Liberation Sans" font-size="12" fill="#666">40</text><text x="650" y="1006.2" text-anchor="end" font-family="Liberation Sans" font-size="12" fill="#666">35</text></svg>
<div id="dd">
<div class="h" style="left:15.0px;top:14.5px">Reports</div>
<div class="l" style="left:23.5px;top:53.4px">Run Reports</div>
<div class="l" style="left:23.5px;top:85.4px">Report Designer</div>
<div class="h" style="left:15.0px;top:123.8px">Volunteers</div>
<div class="l" style="left:23.5px;top:162.1px">Volunteers</div>
<div class="h" style="left:15.0px;top:200.3px">Search</div>
<div class="l" style="left:23.5px;top:238.9px">Search eDocuments</div>
<div class="h" style="left:248.5px;top:14.5px">Time</div>
<div class="l" style="left:257.0px;top:53.4px">Time Reporting Combined</div>
<div class="l" style="left:257.0px;top:85.4px">Time Sheet Review</div>
<div class="l" style="left:257.0px;top:117.4px">Absences and Substitutes</div>
<div class="l" style="left:257.0px;top:149.4px">Absence Calendar</div>
<div class="h" style="left:248.5px;top:187.5px">Payroll</div>
<div class="l" style="left:257.0px;top:226.4px">Manage Pay Periods</div>
<div class="l" style="left:257.0px;top:258.4px">Assign Substitute Rates</div>
<div class="l" style="left:257.0px;top:290.4px">Audit Payroll</div>
<div class="h" style="left:482.0px;top:14.5px">Admin</div>
<div class="l" style="left:490.5px;top:53.4px">User Access</div>
<div class="l" style="left:490.5px;top:85.4px">Dropdown Edits</div>
<div class="l" style="left:490.5px;top:117.4px">Report Criteria</div>
<div class="l" style="left:490.5px;top:149.4px">Settings</div>
<div class="l" style="left:490.5px;top:181.4px">Time Accrual Rules</div>
<div class="l" style="left:490.5px;top:213.4px">Communications</div>
<div class="l" style="left:490.5px;top:245.4px">Import Data</div>
<div class="l" style="left:490.5px;top:277.4px">Form Designer</div>
<div class="l" style="left:490.5px;top:309.4px">Onboarding Designer</div>
<div class="l" style="left:490.5px;top:341.4px">Workflow Designer</div>
<div class="l" style="left:490.5px;top:373.4px;color:#8ba6e2">Evaluation Designer</div>
</div>
<div id="sb"><svg width="15" height="1002" viewBox="1511 0 15 1002" style="display:block"><path d="M1518.5 8.2L1523 14.8H1514z" fill="#7f7f7f"/><rect x="1514" y="23" width="9" height="268" rx="4.5" fill="#898989"/><path d="M1514 987.2H1523L1518.5 993.6z" fill="#7f7f7f"/></svg></div>
</body></html>
